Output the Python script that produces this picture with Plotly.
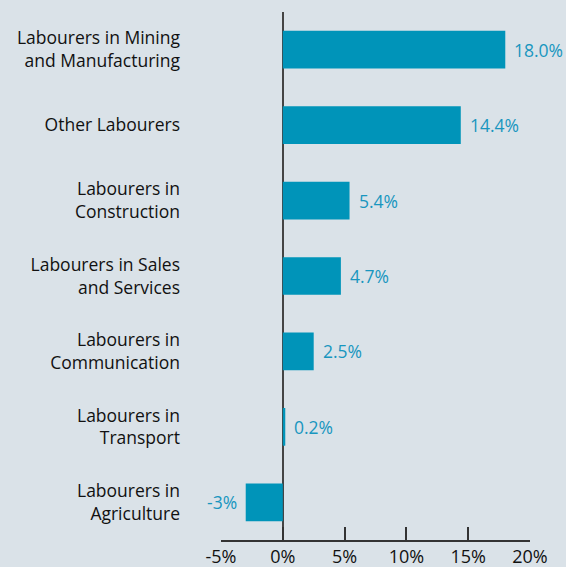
import plotly.graph_objects as go

# Occupations, top to bottom
categories = [
    "Labourers in Mining<br>and Manufacturing",
    "Other Labourers",
    "Labourers in<br>Construction",
    "Labourers in Sales<br>and Services",
    "Labourers in<br>Communication",
    "Labourers in<br>Transport",
    "Labourers in<br>Agriculture",
]
values = [18.0, 14.4, 5.4, 4.7, 2.5, 0.2, -3.0]
value_labels = ["18.0%", "14.4%", "5.4%", "4.7%", "2.5%", "0.2%", "-3%"]
x_ticks = [-5, 0, 5, 10, 15, 20]
x_tick_labels = ["-5%", "0%", "5%", "10%", "15%", "20%"]

BG = "#dae2e8"
BAR = "#0094b9"
LABEL_TEAL = "#1896bf"
FONT = "Open Sans"

fig = go.Figure(
    go.Bar(
        x=values,
        y=categories,
        orientation="h",
        marker=dict(color=BAR, line=dict(width=0)),
        width=0.5,
        cliponaxis=False,
        hoverinfo="skip",
    )
)

# Value labels just past the end of each bar
for cat, v, lab in zip(categories, values, value_labels):
    fig.add_annotation(
        x=v, y=cat, text=lab, showarrow=False,
        xanchor="left" if v >= 0 else "right",
        xshift=7 if v >= 0 else -7,
        font=dict(family=FONT, size=17.5, color=LABEL_TEAL),
    )

fig.update_layout(
    width=566, height=567,
    margin=dict(l=221, r=36, t=12, b=27),
    paper_bgcolor=BG, plot_bgcolor=BG,
    showlegend=False,
    font=dict(family=FONT, color="#111111"),
    xaxis=dict(
        range=[-5, 20],
        tickmode="array",
        tickvals=x_ticks,
        ticktext=x_tick_labels,
        ticks="inside", ticklen=13, tickwidth=1.5, tickcolor="#333",
        showline=True, linecolor="#333", linewidth=1.5,
        showgrid=False,
        zeroline=True, zerolinecolor="#444", zerolinewidth=2,
        tickfont=dict(family=FONT, size=18, color="#111111"),
        automargin=False,
        fixedrange=True,
    ),
    yaxis=dict(
        categoryorder="array", categoryarray=categories,
        autorange="reversed",
        showgrid=False, showline=False, zeroline=False,
        ticks="", ticklabelstandoff=40,
        tickfont=dict(family=FONT, size=17.5, color="#111111"),
        automargin=False,
        fixedrange=True,
    ),
)

fig.write_html("out.html")
